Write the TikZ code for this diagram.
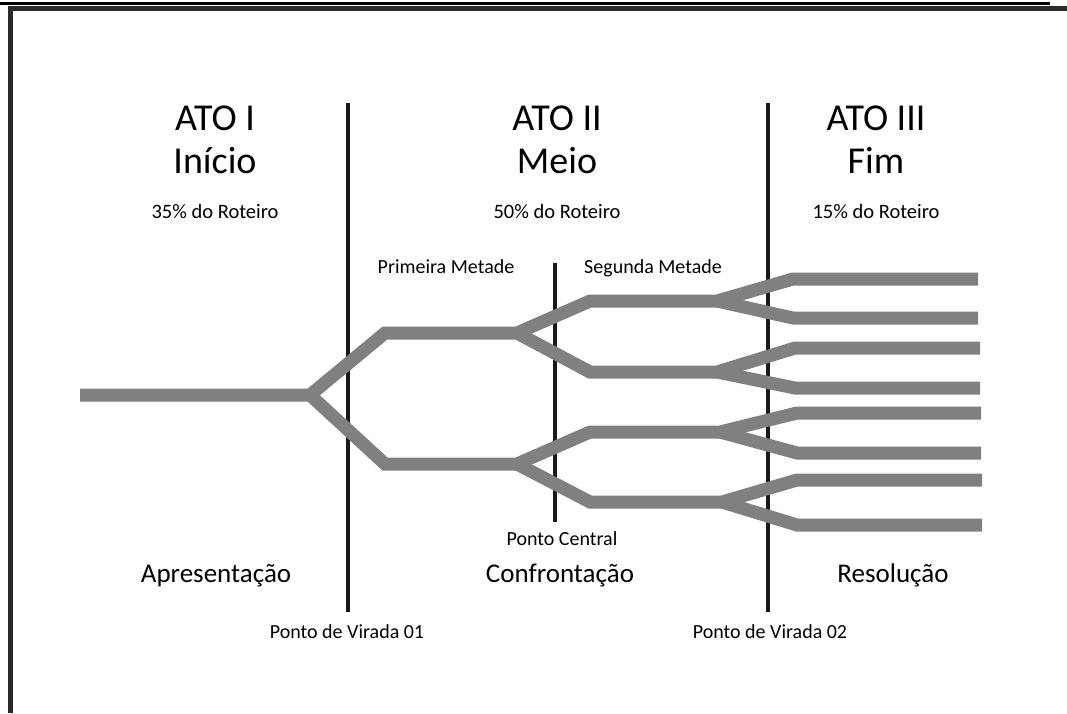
\documentclass[tikz,border=0pt]{standalone}
\usepackage{fontspec}
\setmainfont{Carlito}
\begin{document}
\begin{tikzpicture}[x=1pt,y=-1pt,
  branch/.style={draw=branchgray,line width=13pt,line join=miter,line cap=butt},
  actline/.style={draw=black!90,line width=4.5pt},
  midline/.style={draw=black!90,line width=3.5pt},
  big/.style={anchor=base,inner sep=0pt,font=\fontsize{38}{38}\selectfont},
  pct/.style={anchor=base,inner sep=0pt,font=\fontsize{20.5}{20.5}\selectfont},
  half/.style={anchor=base,inner sep=0pt,font=\fontsize{20}{20}\selectfont},
  part/.style={anchor=base,inner sep=0pt,font=\fontsize{27}{27}\selectfont},
  turn/.style={anchor=base,inner sep=0pt,font=\fontsize{20}{20}\selectfont}]
\definecolor{branchgray}{HTML}{808080}
\definecolor{framegray}{HTML}{2A2A2A}
\fill[white] (0,0) rectangle (1067,713);
\useasboundingbox (0,0) rectangle (1067,713);
% frame
\draw[black,line width=2.2pt] (0,3.5) -- (1050,3.5);
\draw[framegray,line width=5pt] (8,8.5) -- (1067,8.5);
\draw[framegray,line width=5.5pt] (10.5,6) -- (10.5,713);
% act lines
\coordinate (l1t) at (348,103); \coordinate (l1b) at (348,612);
\coordinate (l2t) at (768,103); \coordinate (l2b) at (768,612);
\coordinate (mct) at (555,263); \coordinate (mcb) at (555,522);
\draw[actline] (l1t) -- (l1b);
\draw[actline] (l2t) -- (l2b);
\draw[midline] (mct) -- (mcb);
% tree coordinates
\coordinate (s) at (80,395);
\coordinate (f0) at (310,395);
\coordinate (a1) at (385,333); \coordinate (f1) at (517,333);
\coordinate (a2) at (385,464); \coordinate (f2) at (517,464);
\coordinate (b1) at (590,301); \coordinate (g1) at (717,301);
\coordinate (b2) at (590,372); \coordinate (g2) at (717,372);
\coordinate (b3) at (590,432); \coordinate (g3) at (720,432);
\coordinate (b4) at (590,502); \coordinate (g4) at (722,502);
\coordinate (c1) at (793,279); \coordinate (e1) at (978,279);
\coordinate (c2) at (793,318); \coordinate (e2) at (978,318);
\coordinate (c3) at (795,348); \coordinate (e3) at (980,348);
\coordinate (c4) at (795,388); \coordinate (e4) at (980,388);
\coordinate (c5) at (797,413); \coordinate (e5) at (981,413);
\coordinate (c6) at (797,453); \coordinate (e6) at (981,453);
\coordinate (c7) at (797,480); \coordinate (e7) at (982,480);
\coordinate (c8) at (797,525); \coordinate (e8) at (982,525);
% branches
\draw[branch] (s) -- (f0) -- (a1) -- (f1) -- (b1) -- (g1) -- (c1) -- (e1);
\draw[branch] (f0) -- (a2) -- (f2) -- (b3) -- (g3) -- (c5) -- (e5);
\draw[branch] (f1) -- (b2) -- (g2) -- (c3) -- (e3);
\draw[branch] (f2) -- (b4) -- (g4) -- (c7) -- (e7);
\draw[branch] (g1) -- (c2) -- (e2);
\draw[branch] (g2) -- (c4) -- (e4);
\draw[branch] (g3) -- (c6) -- (e6);
\draw[branch] (g4) -- (c8) -- (e8);
% titles
\node[big] (t1) at (215,130) {ATO I};
\node[big] (n1) at (215,173) {Início};
\node[pct] (p1) at (215,218) {35\% do Roteiro};
\node[big] (t2) at (557,130) {ATO II};
\node[big] (n2) at (557,173) {Meio};
\node[pct] (p2) at (557,218) {50\% do Roteiro};
\node[big] (t3) at (876,130) {ATO III};
\node[big] (n3) at (876,173) {Fim};
\node[pct] (p3) at (876,218) {15\% do Roteiro};
% halves
\node[half] (h1) at (446,273) {Primeira Metade};
\node[half] (h2) at (653,273) {Segunda Metade};
\node[turn] (pc) at (562,545) {Ponto Central};
% parts
\node[part] (r1) at (216,582) {Apresentação};
\node[part] (r2) at (560,582) {Confrontação};
\node[part] (r3) at (893,582) {Resolução};
% turning points
\node[turn] (v1) at (347,638) {Ponto de Virada 01};
\node[turn] (v2) at (770,638) {Ponto de Virada 02};
\end{tikzpicture}
\end{document}
